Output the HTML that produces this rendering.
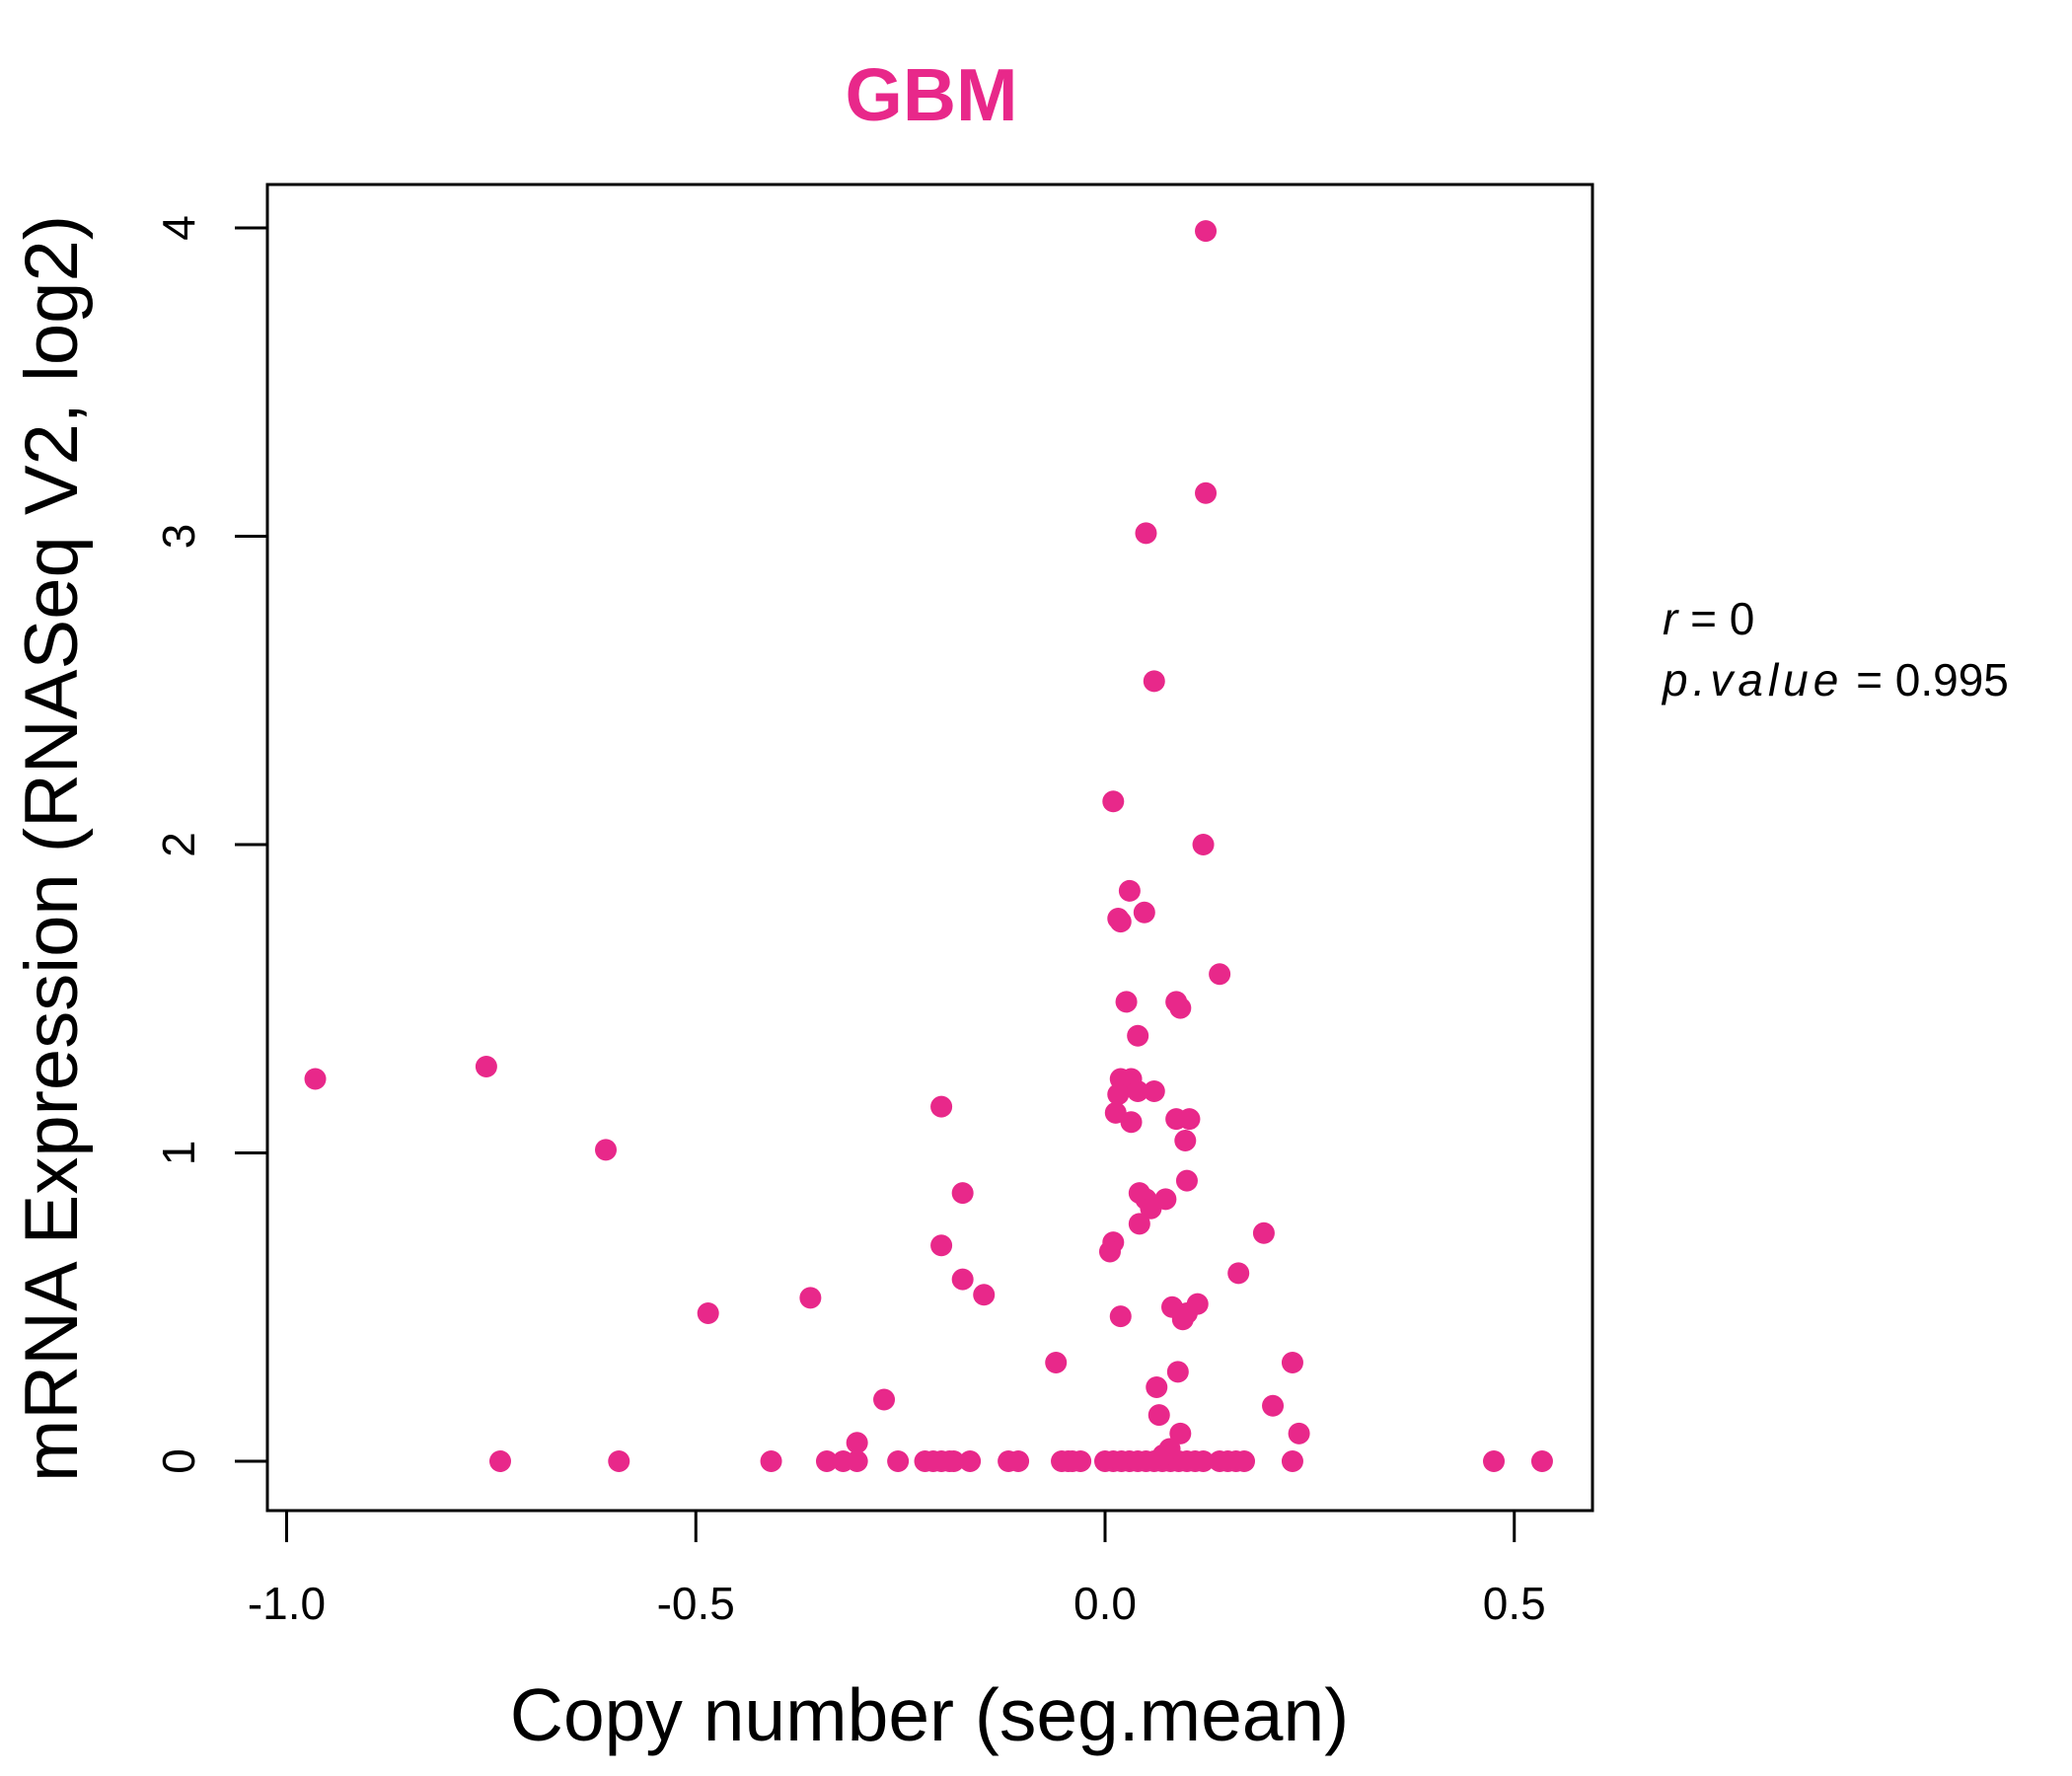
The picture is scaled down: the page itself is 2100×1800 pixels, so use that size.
<!DOCTYPE html>
<html><head><meta charset="utf-8"><style>
html,body{margin:0;padding:0;background:#fff}
svg{display:block}
text{font-family:"Liberation Sans",sans-serif}
</style></head><body>
<svg id="chart" width="2100" height="1800" viewBox="0 0 2100 1800" xmlns="http://www.w3.org/2000/svg">
<text x="944" y="122" text-anchor="middle" font-size="75" font-weight="bold" fill="#E8288A">GBM</text>
<rect x="271" y="187" width="1343" height="1344" fill="none" stroke="#000" stroke-width="3"/>
<g id="xaxis"></g>
<g id="yaxis"></g>
<g id="points"></g>
<text x="942" y="1764" text-anchor="middle" font-size="75">Copy number (seg.mean)</text>
<text transform="translate(78,860) rotate(-90)" text-anchor="middle" font-size="76">mRNA Expression (RNASeq V2, log2)</text>
<text x="1685" y="643" font-size="46"><tspan font-style="italic">r</tspan> = 0</text>
<text x="1685" y="705" font-size="46"><tspan font-style="italic" letter-spacing="5">p.value</tspan> = 0.995</text>
</svg>
<script>
const xTicks=[-1.0,-0.5,0.0,0.5];
const xTickLabels=["-1.0","-0.5","0.0","0.5"];
const yTicks=[0,1,2,3,4];
const yTickLabels=["0","1","2","3","4"];
const xVals=[-0.965,-0.756,-0.61,-0.739,-0.594,-0.485,-0.408,-0.36,-0.34,-0.32,-0.303,-0.303,-0.27,-0.253,-0.22,-0.21,-0.2,-0.19,-0.185,-0.2,-0.2,-0.174,-0.174,-0.165,-0.148,-0.118,-0.106,-0.06,-0.053,-0.045,-0.04,-0.03,
0.0,0.01,0.02,0.03,0.04,0.05,0.06,0.07,0.08,0.09,0.1,0.11,0.12,0.14,0.15,0.16,0.17,0.229,0.475,0.534,
0.123,0.123,0.05,0.06,0.01,0.12,0.03,0.048,0.019,0.016,0.14,0.026,0.087,0.092,0.04,0.019,0.032,0.016,0.04,0.06,0.013,0.032,0.087,0.103,0.098,0.1,0.042,0.05,0.074,0.056,0.042,0.194,0.01,0.006,0.163,0.019,0.082,0.113,0.1,0.095,0.229,0.089,0.063,0.205,0.066,0.237,0.092,0.079,0.071];
const yVals=[1.24,1.28,1.01,0,0,0.48,0,0.53,0,0,0,0.06,0.2,0,0,0,0,0,0,1.15,0.70,0.87,0.59,0,0.54,0,0,0.32,0,0,0,0,
0,0,0,0,0,0,0,0,0,0,0,0,0,0,0,0,0,0,0,0,
3.99,3.14,3.01,2.53,2.14,2.0,1.85,1.78,1.75,1.76,1.58,1.49,1.49,1.47,1.38,1.24,1.24,1.19,1.2,1.2,1.13,1.10,1.11,1.11,1.04,0.91,0.87,0.85,0.85,0.82,0.77,0.74,0.71,0.68,0.61,0.47,0.5,0.51,0.48,0.46,0.32,0.29,0.24,0.18,0.15,0.09,0.09,0.04,0.02];
const NS='http://www.w3.org/2000/svg';
function sx(v){return 1120+v*829.5;}
function sy(v){return 1481-v*312.5;}
function mk(tag,attrs,parent){const e=document.createElementNS(NS,tag);for(const k in attrs)e.setAttribute(k,attrs[k]);parent.appendChild(e);return e;}
const xa=document.getElementById('xaxis'),ya=document.getElementById('yaxis'),pts=document.getElementById('points');
const xl=mk('line',{x1:sx(xTicks[0]),x2:sx(xTicks[xTicks.length-1]),y1:1531,y2:1531,stroke:'#000','stroke-width':3},xa);


xTicks.forEach((t,i)=>{
 const l=mk('line',{x1:sx(t),x2:sx(t),y1:1531,y2:1563,stroke:'#000','stroke-width':3},xa);
 
 
 const tx=mk('text',{x:sx(t),y:1641,'text-anchor':'middle','font-size':46},xa);
 
 
 tx.textContent=xTickLabels[i];
});
yTicks.forEach((t,i)=>{
 const l=mk('line',{x1:238,x2:271,y1:sy(t),y2:sy(t),stroke:'#000','stroke-width':3},ya);
 
 
 const tx=mk('text',{transform:`translate(197,${sy(t)}) rotate(-90)`,'text-anchor':'middle','font-size':46},ya);
 
 
 tx.textContent=yTickLabels[i];
});
xVals.forEach((v,i)=>{
 const c=mk('circle',{cx:sx(v),cy:sy(yVals[i]),r:11,fill:'#E8288A'},pts);
 
 
});
</script>
</body></html>
